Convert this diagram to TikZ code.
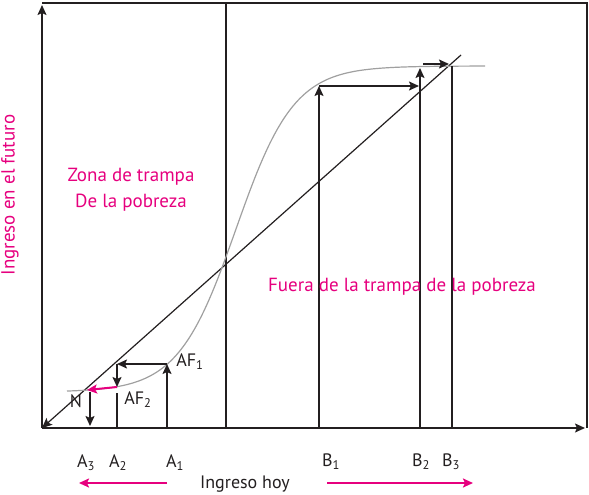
\documentclass[tikz,border=0pt]{standalone}
\usepackage{fontspec}
\setmainfont{PT Sans}
\usetikzlibrary{arrows.meta}
\definecolor{magenta}{RGB}{230,0,126}
\definecolor{ink}{RGB}{35,31,32}
\definecolor{curvegray}{RGB}{160,160,160}

\begin{document}
\begin{tikzpicture}[x=1pt,y=-1pt,
  tip/.style={-{Stealth[length=10pt,width=9pt,inset=2pt]}},
  axis/.style={ink, line width=1.5pt},
  guide/.style={ink, line width=1.3pt},
  flow/.style={ink, line width=1.6pt, tip},
  pinkflow/.style={magenta, line width=2pt, tip},
  pinklabel/.style={magenta, font=\fontsize{19}{26}\selectfont},
  label/.style={ink, font=\fontsize{18}{20}\selectfont}]
\useasboundingbox (0,0) rectangle (589,495);

% points
\coordinate (O) at (42,428);
\coordinate (ytop) at (42,5);
\coordinate (xend) at (585,428);
\coordinate (TL) at (42,3);
\coordinate (TR) at (587,3);
\coordinate (BR) at (587,428);
\coordinate (mtop) at (226,3);
\coordinate (mbot) at (226,428);
\coordinate (diag) at (461,55);

% box and axes
\draw[guide] (TL) -- (TR) -- (BR);
\draw[guide] (mtop) -- (mbot);
\draw[axis, tip] (O) -- (ytop);
\draw[axis, tip] (O) -- (xend);

% 45 degree line
\draw[ink, line width=1.2pt, tip] (diag) -- (O);

% S-curve
\draw[curvegray, line width=1.2pt] plot[smooth, domain=67:485, samples=90]
  (\x, {392-326/(1+exp(-(\x-236)/29))});

% left side: A points
\coordinate (A1) at (167,428);
\coordinate (AF1) at (167,364);
\coordinate (D1) at (117,364);
\coordinate (AF2) at (117,387);
\coordinate (A2) at (117,428);
\coordinate (A2top) at (117,393);
\coordinate (N) at (87,390);
\coordinate (Ntop) at (90,392);
\coordinate (Nbot) at (90,426);

\draw[flow] (A1) -- (AF1);
\draw[flow] (AF1) -- (D1);
\draw[flow] (D1) -- (AF2);
\draw[guide] (A2) -- (A2top);
\draw[pinkflow] (AF2) -- (N);
\draw[flow] (Ntop) -- (Nbot);

% right side: B points
\coordinate (B1) at (319,428);
\coordinate (BF1) at (319,86);
\coordinate (D2) at (419,86);
\coordinate (B2) at (420,428);
\coordinate (BF2) at (420,68);
\coordinate (E1) at (423,64);
\coordinate (E2) at (449,64);
\coordinate (B3) at (452,428);
\coordinate (BF3) at (452,66);

\draw[flow] (B1) -- (BF1);
\draw[flow] (BF1) -- (D2);
\draw[flow] (B2) -- (BF2);
\draw[flow] (E1) -- (E2);
\draw[guide] (B3) -- (BF3);

% labels
\node[label] (lAF1) at (190,362) {AF\textsubscript{1}};
\node[label] (lAF2) at (138,400) {AF\textsubscript{2}};
\node[label] (lN) at (76,401) {N};
\node[label] (lA3) at (86,463) {A\textsubscript{3}};
\node[label] (lA2) at (118,463) {A\textsubscript{2}};
\node[label] (lA1) at (175,463) {A\textsubscript{1}};
\node[label] (lB1) at (331,462) {B\textsubscript{1}};
\node[label] (lB2) at (421,462) {B\textsubscript{2}};
\node[label] (lB3) at (451,462) {B\textsubscript{3}};
\node[label] (xlab) at (245,484) {Ingreso hoy};

\coordinate (la) at (167,483);
\coordinate (lb) at (79,483);
\coordinate (ra) at (327,483);
\coordinate (rb) at (473,483);
\draw[pinkflow] (la) -- (lb);
\draw[pinkflow] (ra) -- (rb);

\node[pinklabel, align=center] (zona) at (131,190) {Zona de trampa\\De la pobreza};
\node[pinklabel] (fuera) at (402,287) {Fuera de la trampa de la pobreza};
\node[pinklabel, rotate=90] (ylab) at (10,195) {Ingreso en el futuro};
\end{tikzpicture}
\end{document}
